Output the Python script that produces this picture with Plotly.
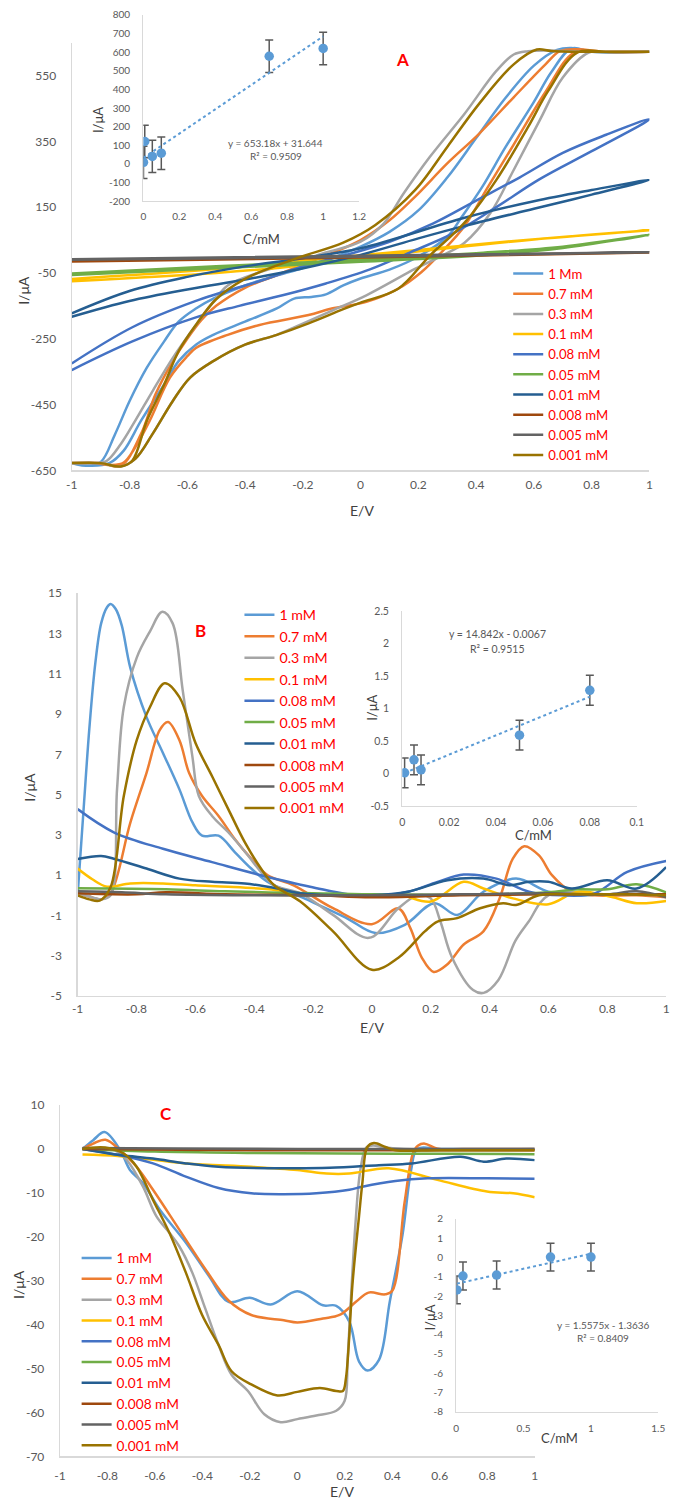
import plotly.graph_objects as go

W, H = 680, 1509
FONT = "Lato"

SERIES_COLORS = ["#5B9BD5", "#ED7D31", "#A5A5A5", "#FFC000", "#4472C4",
                 "#70AD47", "#255E91", "#9E480E", "#636363", "#997300"]
LEGEND_A = ["1 Mm", "0.7 mM", "0.3 mM", "0.1 mM", "0.08 mM",
            "0.05 mM", "0.01 mM", "0.008 mM", "0.005 mM", "0.001 mM"]
LEGEND_BC = ["1 mM", "0.7 mM", "0.3 mM", "0.1 mM", "0.08 mM",
             "0.05 mM", "0.01 mM", "0.008 mM", "0.005 mM", "0.001 mM"]

# ---------------- Panel A : cyclic voltammograms (E/V vs I/uA) ----------------
a_1_x = [-1, -0.95, -0.9, -0.85, -0.8, -0.74, -0.68, -0.63, -0.57, -0.51, -0.4, -0.3, -0.2, -0.1, 0, 0.1, 0.2, 0.3,
         0.4, 0.5, 0.6, 0.68, 0.73, 0.8, 1,
         0.8, 0.73, 0.66, 0.6, 0.5, 0.42, 0.35, 0.3, 0.2, 0.1, 0, -0.06, -0.12, -0.17, -0.23, -0.29, -0.4, -0.51,
         -0.57, -0.63, -0.68, -0.76, -0.82, -0.87, -0.93, -1]
a_1_y = [-628, -636, -625, -540, -440, -338, -258, -198, -158, -128, -88, -60, -35, -5, 30, 75, 140, 240,
         360, 480, 580, 628, 634, 622, 622,
         622, 632, 560, 470, 330, 210, 120, 60, 0, -40, -67, -88, -115, -123, -128, -158, -198, -238,
         -268, -318, -389, -499, -590, -628, -636, -628]

a_07_x = [-1, -0.9, -0.83, -0.76, -0.71, -0.65, -0.6, -0.55, -0.5, -0.4, -0.3, -0.2, -0.1, 0, 0.1, 0.19, 0.3, 0.41,
          0.53, 0.64, 0.69, 0.75, 0.85, 1,
          0.85, 0.74, 0.64, 0.53, 0.44, 0.36, 0.28, 0.21, 0.13, 0.02, -0.1, -0.18, -0.35, -0.46, -0.57, -0.6,
          -0.66, -0.73, -0.78, -0.82, -0.86, -0.92, -1]
a_07_y = [-628, -628, -636, -539, -419, -318, -250, -192, -150, -95, -60, -25, 10, 50, 110, 183, 283, 373,
          484, 584, 624, 630, 622, 622,
          622, 620, 500, 340, 210, 93, 13, -48, -98, -138, -158, -178, -208, -238, -278, -303,
          -368, -499, -580, -626, -634, -628, -628]

a_03_x = [-1, -0.92, -0.88, -0.83, -0.78, -0.72, -0.65, -0.57, -0.51, -0.46, -0.35, -0.23, -0.12, 0, 0.08, 0.15,
          0.24, 0.36, 0.47, 0.53, 0.58, 0.65, 0.8, 1,
          0.85, 0.79, 0.7, 0.62, 0.53, 0.45, 0.36, 0.28, 0.19, 0.02, -0.1, -0.21, -0.29, -0.4, -0.51, -0.59,
          -0.65, -0.72, -0.78, -0.83, -0.9, -1]
a_03_y = [-628, -628, -622, -570, -499, -409, -308, -208, -138, -88, -48, -18, 12, 45, 100, 193,
          303, 434, 564, 614, 624, 626, 622, 622,
          622, 620, 544, 414, 263, 133, 42, 2, -37, -118, -165, -208, -238, -268, -318, -368,
          -439, -539, -615, -638, -628, -628]

a_01_x = [-1, -0.5, -0.2, 0.2, 0.5, 1, 0.6, 0.3, 0, -0.21, -0.5, -1]
a_01_y = [-68, -38, -12, 20, 45, 80, 52, 25, -5, -28, -50, -75]

a_008_x = [-1, -0.79, -0.57, -0.34, -0.2, -0.05, 0.1, 0.25, 0.4, 0.55, 0.7, 0.85, 1,
           0.8, 0.62, 0.47, 0.32, 0.17, 0.03, -0.12, -0.27, -0.42, -0.57, -0.79, -1]
a_008_y = [-325, -215, -135, -72, -30, 5, 45, 100, 170, 240, 315, 370, 417,
           320, 235, 150, 70, 12, -40, -82, -118, -150, -185, -258, -345]

a_005_x = [-1, -0.5, 0, 0.4, 0.7, 1, 0.7, 0.4, 0, -0.5, -1]
a_005_y = [-52, -30, -10, 10, 30, 66, 26, 2, -16, -36, -56]

a_001_x = [-1, -0.8, -0.6, -0.4, -0.2, 0, 0.36, 0.6, 0.8, 1, 0.8, 0.6, 0.36, 0.2, 0, -0.21, -0.4, -0.6, -0.8, -1]
a_001_y = [-173, -105, -62, -30, -5, 25, 118, 168, 202, 233, 188, 145, 93, 55, 5, -38, -70, -100, -135, -183]

a_0008_x = [-1, 0, 1, 0, -1]
a_0008_y = [-12, 0, 12, -3, -15]

a_0005_x = [-1, 0, 1, 0, -1]
a_0005_y = [-8, 2, 13, -1, -10]

a_0001_x = [-1, -0.9, -0.83, -0.79, -0.74, -0.68, -0.63, -0.57, -0.5, -0.4, -0.23, -0.06, 0.05, 0.19, 0.3, 0.41,
            0.53, 0.61, 0.66, 0.8, 1,
            0.85, 0.75, 0.65, 0.58, 0.47, 0.36, 0.24, 0.13, 0, -0.06, -0.18, -0.29, -0.4, -0.51, -0.59,
            -0.65, -0.72, -0.78, -0.83, -0.9, -1]
a_0001_y = [-628, -628, -638, -620, -499, -389, -288, -208, -130, -68, -8, 42, 95, 203, 333, 464,
            584, 629, 625, 622, 622,
            622, 620, 504, 394, 233, 103, 3, -98, -140, -160, -203, -238, -268, -318, -368,
            -439, -539, -615, -638, -628, -628]

# inset A: calibration
ins_a_conc = [0.001, 0.008, 0.05, 0.1, 0.7, 1.0]
ins_a_curr = [8, 120, 40, 57, 578, 620]
ins_a_err = [87, 87, 87, 87, 87, 87]
ins_a_trend_x = [0.001, 1.0]
ins_a_trend_y = [32.3, 684.8]

# ---------------- Panel B ----------------
b_1_x = [-1, -0.98, -0.96, -0.94, -0.92, -0.9, -0.888, -0.87, -0.85, -0.821, -0.766, -0.71, -0.654, -0.61, -0.577,
         -0.521, -0.466, -0.41, -0.354, -0.233, -0.089, 0.012, 0.112, 0.212, 0.29, 0.379, 0.49, 0.6, 0.7, 0.8,
         0.9, 1]
b_1_y = [0.0, 4.2, 8.3, 11.5, 13.5, 14.3, 14.46, 14.2, 13.4, 11.3, 8.86, 7.07, 5.26, 3.63, 2.96,
         2.96, 2.15, 1.33, 0.67, -0.13, -1.1, -1.87, -1.46, -0.39, -0.97, 0.18, 0.83, 0.18, 0.0, 0.05,
         0.05, 0.0]

b_07_x = [-1, -0.95, -0.92, -0.888, -0.821, -0.766, -0.721, -0.693, -0.654, -0.621, -0.577, -0.521, -0.466, -0.41,
          -0.354, -0.266, -0.132, 0.0, 0.09, 0.13, 0.17, 0.21, 0.257, 0.312, 0.379, 0.434, 0.479, 0.518, 0.568,
          0.612, 0.679, 0.756, 0.9, 1]
b_07_y = [0.1, -0.1, -0.2, 0.1, 3.6, 6.07, 8.2, 8.6, 7.7, 6.07, 4.93, 3.94, 2.8, 1.82,
          1.0, 0.5, -0.64, -1.43, -0.65, -1.6, -3.1, -3.8, -3.42, -2.44, -1.79, -0.15, 1.82, 2.44, 1.98,
          1.0, 0.18, 0.0, 0.0, -0.1]

b_03_x = [-1, -0.95, -0.92, -0.888, -0.866, -0.843, -0.799, -0.754, -0.712, -0.677, -0.643, -0.61, -0.588, -0.543,
          -0.488, -0.421, -0.377, -0.332, -0.243, -0.132, -0.01, 0.09, 0.157, 0.2, 0.233, 0.272, 0.344, 0.38,
          0.43, 0.488, 0.533, 0.6, 0.8, 1]
b_03_y = [0.1, -0.1, -0.2, 0.0, 5.26, 9.35, 11.8, 13.1, 14.07, 13.5, 10.2, 6.9, 4.93, 3.94,
          3.13, 1.98, 1.16, 0.5, 0.1, -0.97, -2.11, -0.64, 0.0, -0.15, -1.3, -3.07, -4.7, -4.84,
          -4.2, -2.25, -1.3, 0.0, 0.05, 0.0]

b_01_x = [-1, -0.95, -0.9, -0.821, -0.71, -0.6, -0.488, -0.35, -0.243, 0.0, 0.1, 0.2, 0.312, 0.379, 0.479, 0.6,
          0.7, 0.812, 0.9, 1]
b_01_y = [1.33, 0.8, 0.43, 0.59, 0.59, 0.5, 0.43, 0.3, 0.1, 0.0, 0.0, -0.31, 0.67, 0.34, -0.15, -0.44,
          0.18, -0.07, -0.39, -0.28]

b_008_x = [-1, -0.877, -0.71, -0.543, -0.377, -0.21, -0.01, 0.123, 0.223, 0.312, 0.423, 0.534, 0.645, 0.757,
           0.868, 1]
b_008_y = [4.28, 3.13, 2.31, 1.65, 1.0, 0.43, -0.07, 0.18, 0.67, 1.03, 0.83, 0.18, 0.0, 0.1, 1.16, 1.7]

b_005_x = [-1, -0.7, -0.5, -0.2, 0, 0.4, 0.6, 0.7, 0.8, 0.9, 1]
b_005_y = [0.35, 0.3, 0.2, 0.1, 0.05, 0.05, 0.15, 0.3, 0.3, 0.55, 0.15]

b_001_x = [-1, -0.92, -0.877, -0.766, -0.654, -0.543, -0.432, -0.321, -0.243, 0.0, 0.123, 0.257, 0.379, 0.468,
           0.533, 0.6, 0.679, 0.8, 0.9, 1]
b_001_y = [1.8, 1.95, 1.82, 1.33, 0.83, 0.67, 0.59, 0.34, 0.1, 0.0, 0.18, 0.75, 0.83, 0.5,
           0.67, 0.67, 0.34, 0.75, 0.34, 1.4]

b_0008_x = [-1, -0.8, -0.7, -0.5, -0.2, 0, 0.3, 0.6, 1]
b_0008_y = [0.1, 0.05, 0.15, 0.05, 0.0, -0.1, 0.0, 0.05, 0.05]

b_0005_x = [-1, -0.85, -0.7, -0.4, 0, 0.3, 0.6, 0.8, 0.9, 1]
b_0005_y = [0.2, 0.15, 0.05, 0.0, 0.0, 0.05, 0.1, 0.05, 0.2, -0.1]

b_0001_x = [-1, -0.96, -0.925, -0.888, -0.843, -0.799, -0.754, -0.704, -0.654, -0.599, -0.543, -0.488, -0.432,
            -0.377, -0.332, -0.243, -0.132, 0.0, 0.09, 0.18, 0.223, 0.29, 0.368, 0.446, 0.49, 0.568, 0.7, 0.85, 1]
b_0001_y = [0.0, -0.2, -0.26, 0.4, 4.93, 7.7, 9.35, 10.53, 9.84, 7.55, 5.91, 4.28, 2.64,
            1.33, 0.5, -0.31, -1.79, -3.69, -3.1, -1.79, -1.3, -1.13, -0.64, -0.39, -0.48, 0.0, 0.05, 0.05, 0.0]

# inset B
ins_b_conc = [0.001, 0.005, 0.008, 0.05, 0.08]
ins_b_curr = [0.01, 0.21, 0.056, 0.59, 1.28]
ins_b_err = [0.23, 0.23, 0.23, 0.23, 0.23]
ins_b_trend_x = [0.001, 0.08]
ins_b_trend_y = [0.008, 1.181]

# ---------------- Panel C ----------------
c_1_x = [-0.905, -0.86, -0.812, -0.746, -0.705, -0.65, -0.58, -0.47, -0.374, -0.29, -0.2, -0.112, 0.0, 0.108,
         0.164, 0.219, 0.26, 0.296, 0.344, 0.39, 0.443, 0.48, 0.506, 0.6, 0.8, 1]
c_1_y = [0.0, 2.0, 3.83, -0.3, -4.8, -7.8, -13.8, -21.3, -28.8, -34.8, -33.9, -35.4, -32.4, -35.6,
         -35.7, -39.3, -48.4, -50.45, -48.0, -34.6, -19.6, -4.6, 0.04, 0.0, 0.0, 0.0]

c_07_x = [-0.905, -0.86, -0.808, -0.746, -0.677, -0.608, -0.498, -0.388, -0.29, -0.194, -0.057, 0.0, 0.108, 0.178,
          0.247, 0.3, 0.37, 0.4, 0.452, 0.488, 0.509, 0.537, 0.59, 0.7, 1]
c_07_y = [0.0, 1.2, 2.1, -0.3, -4.05, -9.3, -18.3, -27.3, -34.5, -37.8, -39.0, -39.5, -38.6, -37.8,
          -34.8, -32.7, -33.1, -32.3, -12.1, -0.86, 0.8, 1.2, 0.07, 0.0, 0.0]

c_03_x = [-0.905, -0.77, -0.718, -0.65, -0.594, -0.539, -0.498, -0.443, -0.388, -0.332, -0.277, -0.208, -0.139,
          -0.07, 0.0, 0.08, 0.164, 0.199, 0.212, 0.228, 0.245, 0.265, 0.29, 0.32, 0.36, 0.45, 1]
c_03_y = [0.0, -0.3, -2.55, -8.6, -15.3, -19.1, -22.1, -28.1, -36.3, -44.6, -51.4, -55.1, -60.4,
          -62.2, -61.5, -60.7, -59.6, -57.4, -48.0, -32.0, -17.0, -5.0, 0.3, 0.8, 0.4, 0.0, 0.0]

c_01_x = [-0.905, -0.746, -0.47, -0.194, 0.0, 0.123, 0.219, 0.385, 0.59, 0.799, 0.91, 1]
c_01_y = [-1.28, -1.65, -3.3, -4.05, -4.8, -5.6, -5.6, -4.4, -7.05, -9.7, -10.1, -11.0]

c_008_x = [-0.905, -0.746, -0.608, -0.47, -0.332, -0.194, -0.057, 0.08, 0.219, 0.274, 0.413, 0.55, 0.8, 1]
c_008_y = [0.0, -1.43, -3.3, -6.3, -8.9, -10.1, -10.3, -10.1, -9.3, -8.6, -7.3, -6.7, -6.7, -6.8]

c_005_x = [-0.905, -0.6, -0.2, 0.2, 0.6, 1]
c_005_y = [0.0, -0.6, -0.9, -1.05, -1.1, -1.2]

c_001_x = [-0.905, -0.746, -0.608, -0.47, -0.332, -0.057, 0.137, 0.343, 0.481, 0.688, 0.785, 0.88, 1]
c_001_y = [0.0, -1.4, -2.2, -3.3, -4.05, -4.4, -4.3, -3.7, -3.3, -1.8, -2.9, -2.2, -2.55]

c_0008_x = [-0.905, -0.5, 0, 0.5, 1]
c_0008_y = [0.0, -0.2, -0.3, -0.3, -0.3]

c_0005_x = [-0.905, -0.5, 0, 0.5, 1]
c_0005_y = [0.2, 0.1, 0.0, 0.0, 0.0]

c_0001_x = [-0.905, -0.81, -0.732, -0.677, -0.608, -0.539, -0.47, -0.401, -0.332, -0.277, -0.194, -0.084, 0.0,
            0.095, 0.164, 0.192, 0.205, 0.233, 0.26, 0.274, 0.295, 0.323, 0.371, 0.413, 0.6, 1]
c_0001_y = [0.0, 0.3, -1.05, -4.05, -11.6, -19.1, -28.1, -37.8, -44.6, -50.6, -53.6, -56.1, -55.3,
            -54.4, -55.1, -55.1, -52.1, -30.3, -15.3, -7.8, 0.45, 1.35, 0.45, -0.3, -0.3, -0.3]

# inset C
ins_c_conc = [0.005, 0.05, 0.3, 0.7, 1.0]
ins_c_curr = [-1.68, -0.96, -0.91, 0.02, 0.02]
ins_c_err = [0.72, 0.72, 0.72, 0.72, 0.72]
ins_c_trend_x = [0.005, 1.0]
ins_c_trend_y = [-1.356, 0.194]

# ---------------- tick labels ----------------
E_TICKS = [-1, -0.8, -0.6, -0.4, -0.2, 0, 0.2, 0.4, 0.6, 0.8, 1]
E_TEXT = ["-1", "-0.8", "-0.6", "-0.4", "-0.2", "0", "0.2", "0.4", "0.6", "0.8", "1"]
A_Y_TICKS = [-650, -450, -250, -50, 150, 350, 550]
A_Y_TEXT = ["-650", "-450", "-250", "-50", "150", "350", "550"]
B_Y_TICKS = [-5, -3, -1, 1, 3, 5, 7, 9, 11, 13, 15]
B_Y_TEXT = ["-5", "-3", "-1", "1", "3", "5", "7", "9", "11", "13", "15"]
C_Y_TICKS = [-70, -60, -50, -40, -30, -20, -10, 0, 10]
C_Y_TEXT = ["-70", "-60", "-50", "-40", "-30", "-20", "-10", "0", "10"]
IA_X_TICKS = [0, 0.2, 0.4, 0.6, 0.8, 1, 1.2]
IA_X_TEXT = ["0", "0.2", "0.4", "0.6", "0.8", "1", "1.2"]
IA_Y_TICKS = [-200, -100, 0, 100, 200, 300, 400, 500, 600, 700, 800]
IA_Y_TEXT = ["-200", "-100", "0", "100", "200", "300", "400", "500", "600", "700", "800"]
IB_X_TICKS = [0, 0.02, 0.04, 0.06, 0.08, 0.1]
IB_X_TEXT = ["0", "0.02", "0.04", "0.06", "0.08", "0.1"]
IB_Y_TICKS = [-0.5, 0, 0.5, 1, 1.5, 2, 2.5]
IB_Y_TEXT = ["-0.5", "0", "0.5", "1", "1.5", "2", "2.5"]
IC_X_TICKS = [0, 0.5, 1, 1.5]
IC_X_TEXT = ["0", "0.5", "1", "1.5"]
IC_Y_TICKS = [-8, -7, -6, -5, -4, -3, -2, -1, 0, 1, 2]
IC_Y_TEXT = ["-8", "-7", "-6", "-5", "-4", "-3", "-2", "-1", "0", "1", "2"]


def fx(p):
    return p / W


def fy(p):
    return 1 - p / H


fig = go.Figure()

panel_a = [(a_1_x, a_1_y), (a_07_x, a_07_y), (a_03_x, a_03_y), (a_01_x, a_01_y), (a_008_x, a_008_y),
           (a_005_x, a_005_y), (a_001_x, a_001_y), (a_0008_x, a_0008_y), (a_0005_x, a_0005_y),
           (a_0001_x, a_0001_y)]
panel_b = [(b_1_x, b_1_y), (b_07_x, b_07_y), (b_03_x, b_03_y), (b_01_x, b_01_y), (b_008_x, b_008_y),
           (b_005_x, b_005_y), (b_001_x, b_001_y), (b_0008_x, b_0008_y), (b_0005_x, b_0005_y),
           (b_0001_x, b_0001_y)]
panel_c = [(c_1_x, c_1_y), (c_07_x, c_07_y), (c_03_x, c_03_y), (c_01_x, c_01_y), (c_008_x, c_008_y),
           (c_005_x, c_005_y), (c_001_x, c_001_y), (c_0008_x, c_0008_y), (c_0005_x, c_0005_y),
           (c_0001_x, c_0001_y)]

for series, names, xa, ya, leg in [(panel_a, LEGEND_A, "x", "y", "legend"),
                                   (panel_b, LEGEND_BC, "x3", "y3", "legend2"),
                                   (panel_c, LEGEND_BC, "x5", "y5", "legend3")]:
    for i, (xs, ys) in enumerate(series):
        fig.add_trace(go.Scatter(
            x=xs, y=ys, mode="lines", name=names[i],
            line=dict(color=SERIES_COLORS[i], width=2.5, shape="spline", smoothing=1.0),
            xaxis=xa, yaxis=ya, legend=leg, showlegend=True, hoverinfo="skip"))

for cx, cy, ce, tx, ty, xa, ya in [
        (ins_a_conc, ins_a_curr, ins_a_err, ins_a_trend_x, ins_a_trend_y, "x2", "y2"),
        (ins_b_conc, ins_b_curr, ins_b_err, ins_b_trend_x, ins_b_trend_y, "x4", "y4"),
        (ins_c_conc, ins_c_curr, ins_c_err, ins_c_trend_x, ins_c_trend_y, "x6", "y6")]:
    fig.add_trace(go.Scatter(
        x=cx, y=cy, mode="markers",
        marker=dict(size=9.5, color="#5B9BD5"),
        error_y=dict(type="data", array=ce, color="#595959", thickness=1.5, width=4),
        xaxis=xa, yaxis=ya, showlegend=False, hoverinfo="skip"))
    fig.add_trace(go.Scatter(
        x=tx, y=ty, mode="lines",
        line=dict(color="#5B9BD5", width=2, dash="dot"),
        xaxis=xa, yaxis=ya, showlegend=False, hoverinfo="skip"))


def ax(domain, rng, tv, tt, size, standoff, anchor):
    return dict(domain=domain, range=rng, tickvals=tv, ticktext=tt, showline=True,
                linecolor="#D9D9D9", linewidth=1.2, showgrid=False, zeroline=False, ticks="",
                tickfont=dict(size=size, color="#595959", family=FONT),
                ticklabelstandoff=standoff, ticklabeloverflow="allow", anchor=anchor, fixedrange=True)


layout = dict(
    width=W, height=H, margin=dict(l=0, r=0, t=0, b=0),
    paper_bgcolor="white", plot_bgcolor="rgba(0,0,0,0)",
    font=dict(family=FONT, color="#404040"),
    xaxis=ax([fx(67), fx(656)], [-1, 1], E_TICKS, E_TEXT, 12, 3, "y"),
    yaxis=ax([fy(467), fy(35)], [-650, 650], A_Y_TICKS, A_Y_TEXT, 12, 12, "x"),
    xaxis2=ax([fx(140), fx(360)], [0, 1.2], IA_X_TICKS, IA_X_TEXT, 10, 6, "y2"),
    yaxis2=ax([fy(195), fy(7)], [-200, 800], IA_Y_TICKS, IA_Y_TEXT, 10, 10, "x2"),
    xaxis3=ax([fx(73), fx(673)], [-1, 1], E_TICKS, E_TEXT, 12, 1, "y3"),
    yaxis3=ax([fy(998), fy(591)], [-5, 15], B_Y_TICKS, B_Y_TEXT, 12, 12, "x3"),
    xaxis4=ax([fx(404), fx(643)], [0, 0.1], IB_X_TICKS, IB_X_TEXT, 10.5, 6, "y4"),
    yaxis4=ax([fy(806), fy(609)], [-0.5, 2.5], IB_Y_TICKS, IB_Y_TEXT, 10.5, 10, "x4"),
    xaxis5=ax([fx(55), fx(539)], [-1, 1], E_TICKS, E_TEXT, 12, 8, "y5"),
    yaxis5=ax([fy(1463), fy(1108)], [-70, 10], C_Y_TICKS, C_Y_TEXT, 12, 12, "x5"),
    xaxis6=ax([fx(459), fx(665)], [0, 1.5], IC_X_TICKS, IC_X_TEXT, 10, 7, "y6"),
    yaxis6=ax([fy(1418), fy(1223)], [-8, 2], IC_Y_TICKS, IC_Y_TEXT, 10, 10, "x6"),
)

leg_common = dict(bgcolor="rgba(0,0,0,0)", borderwidth=0, xanchor="left", yanchor="top",
                  itemwidth=30, traceorder="normal")
layout["legend"] = dict(x=fx(512), y=fy(253), font=dict(size=13.2, color="#FF0000", family=FONT), **leg_common)
layout["legend2"] = dict(x=fx(238), y=fy(597), font=dict(size=14.2, color="#FF0000", family=FONT), **leg_common)
layout["legend3"] = dict(x=fx(72), y=fy(1247), font=dict(size=13.7, color="#FF0000", family=FONT), **leg_common)

ann = []


def text(xp, yp, s, size, color="#404040", angle=0, bold=False, xref="paper", yref="paper"):
    ann.append(dict(x=xp, y=yp, xref=xref, yref=yref, text=("<b>%s</b>" % s) if bold else s,
                    showarrow=False, textangle=angle, xanchor="center", yanchor="middle",
                    font=dict(size=size, color=color, family=FONT)))


# panel letters
text(fx(404), fy(52), "A", 17, "#FF0000", bold=True)
text(fx(198), fy(629), "B", 17, "#FF0000", bold=True)
text(fx(163), fy(1117), "C", 17, "#FF0000", bold=True)
# main axis titles
text(fx(18), fy(285), "I/μA", 14, angle=-90)
text(fx(363), fy(508), "E/V", 14)
text(fx(24), fy(787), "I/μA", 14, angle=-90)
text(fx(373), fy(1030), "E/V", 14)
text(fx(12), fy(1289), "I/μA", 14, angle=-90)
text(fx(343), fy(1498), "E/V", 14)
# inset axis titles
text(fx(94), fy(113), "I/μA", 13, angle=-90)
text(fx(260), fy(233), "C/mM", 13)
text(fx(373), fy(707), "I/μA", 13, angle=-90)
text(fx(538), fy(835), "C/mM", 13)
text(fx(432), fy(1323), "I/μA", 13, angle=-90)
text(fx(564), fy(1444), "C/mM", 13)
# equations
text(0.736, 112, "y = 653.18x + 31.644", 10, "#595959", xref="x2", yref="y2")
text(0.736, 42, "R² = 0.9509", 10, "#595959", xref="x2", yref="y2")
text(0.0406, 2.15, "y = 14.842x - 0.0067", 10.5, "#595959", xref="x4", yref="y4")
text(0.0406, 1.92, "R² = 0.9515", 10.5, "#595959", xref="x4", yref="y4")
text(1.09, -3.49, "y = 1.5575x - 1.3636", 10, "#595959", xref="x6", yref="y6")
text(1.09, -4.15, "R² = 0.8409", 10, "#595959", xref="x6", yref="y6")

layout["annotations"] = ann
fig.update_layout(**layout)
fig.write_html(
    "out.html",
    config={"displayModeBar": False, "staticPlot": True},
    post_script="document.documentElement.style.margin='0';document.body.style.margin='0';"
                "document.body.style.padding='0';document.body.style.overflow='hidden';")
